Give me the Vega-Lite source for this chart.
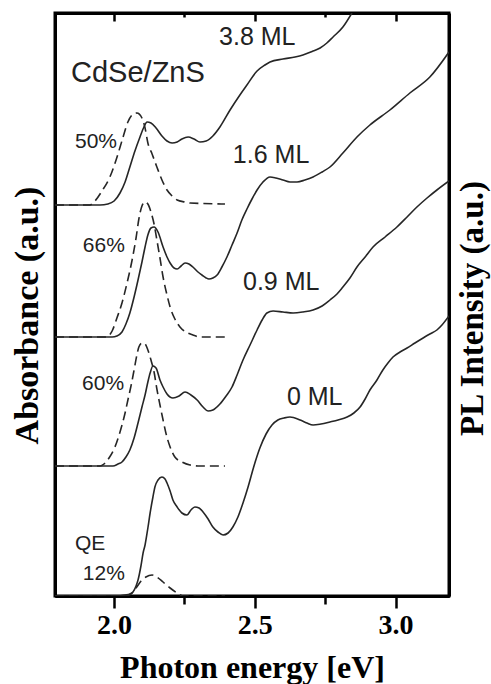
{
  "$schema": "https://vega.github.io/schema/vega-lite/v6.json",
  "width": 394,
  "height": 583,
  "autosize": {"type": "none"},
  "padding": {"left": 55, "top": 13, "right": 42, "bottom": 88},
  "config": {
    "view": {"stroke": "black", "strokeWidth": 3}
  },
  "datasets": {
    "abs": [
      {"series": "3.8 ML", "e": 1.790, "a": 3.91}, {"series": "3.8 ML", "e": 1.950, "a": 3.91}, {"series": "3.8 ML", "e": 1.978, "a": 3.92}, {"series": "3.8 ML", "e": 2.000, "a": 3.95}, {"series": "3.8 ML", "e": 2.021, "a": 4.03}, {"series": "3.8 ML", "e": 2.039, "a": 4.14}, {"series": "3.8 ML", "e": 2.056, "a": 4.29}, {"series": "3.8 ML", "e": 2.074, "a": 4.45}, {"series": "3.8 ML", "e": 2.092, "a": 4.59}, {"series": "3.8 ML", "e": 2.106, "a": 4.69}, {"series": "3.8 ML", "e": 2.117, "a": 4.74}, {"series": "3.8 ML", "e": 2.131, "a": 4.73}, {"series": "3.8 ML", "e": 2.149, "a": 4.68}, {"series": "3.8 ML", "e": 2.170, "a": 4.60}, {"series": "3.8 ML", "e": 2.188, "a": 4.55}, {"series": "3.8 ML", "e": 2.206, "a": 4.53}, {"series": "3.8 ML", "e": 2.224, "a": 4.54}, {"series": "3.8 ML", "e": 2.241, "a": 4.57}, {"series": "3.8 ML", "e": 2.263, "a": 4.59}, {"series": "3.8 ML", "e": 2.284, "a": 4.57}, {"series": "3.8 ML", "e": 2.305, "a": 4.54}, {"series": "3.8 ML", "e": 2.327, "a": 4.55}, {"series": "3.8 ML", "e": 2.351, "a": 4.60}, {"series": "3.8 ML", "e": 2.376, "a": 4.69}, {"series": "3.8 ML", "e": 2.412, "a": 4.86}, {"series": "3.8 ML", "e": 2.447, "a": 5.01}, {"series": "3.8 ML", "e": 2.472, "a": 5.11}, {"series": "3.8 ML", "e": 2.508, "a": 5.25}, {"series": "3.8 ML", "e": 2.536, "a": 5.31}, {"series": "3.8 ML", "e": 2.554, "a": 5.34}, {"series": "3.8 ML", "e": 2.600, "a": 5.37}, {"series": "3.8 ML", "e": 2.643, "a": 5.39}, {"series": "3.8 ML", "e": 2.671, "a": 5.41}, {"series": "3.8 ML", "e": 2.707, "a": 5.45}, {"series": "3.8 ML", "e": 2.732, "a": 5.48}, {"series": "3.8 ML", "e": 2.756, "a": 5.53}, {"series": "3.8 ML", "e": 2.778, "a": 5.59}, {"series": "3.8 ML", "e": 2.813, "a": 5.69}, {"series": "3.8 ML", "e": 2.845, "a": 5.83},

      {"series": "1.6 ML", "e": 1.790, "a": 2.59}, {"series": "1.6 ML", "e": 1.993, "a": 2.59}, {"series": "1.6 ML", "e": 2.010, "a": 2.60}, {"series": "1.6 ML", "e": 2.028, "a": 2.64}, {"series": "1.6 ML", "e": 2.042, "a": 2.72}, {"series": "1.6 ML", "e": 2.056, "a": 2.83}, {"series": "1.6 ML", "e": 2.071, "a": 2.99}, {"series": "1.6 ML", "e": 2.085, "a": 3.16}, {"series": "1.6 ML", "e": 2.099, "a": 3.34}, {"series": "1.6 ML", "e": 2.110, "a": 3.49}, {"series": "1.6 ML", "e": 2.120, "a": 3.61}, {"series": "1.6 ML", "e": 2.131, "a": 3.68}, {"series": "1.6 ML", "e": 2.142, "a": 3.69}, {"series": "1.6 ML", "e": 2.156, "a": 3.64}, {"series": "1.6 ML", "e": 2.174, "a": 3.49}, {"series": "1.6 ML", "e": 2.188, "a": 3.39}, {"series": "1.6 ML", "e": 2.199, "a": 3.33}, {"series": "1.6 ML", "e": 2.213, "a": 3.28}, {"series": "1.6 ML", "e": 2.224, "a": 3.27}, {"series": "1.6 ML", "e": 2.238, "a": 3.30}, {"series": "1.6 ML", "e": 2.252, "a": 3.33}, {"series": "1.6 ML", "e": 2.266, "a": 3.32}, {"series": "1.6 ML", "e": 2.280, "a": 3.29}, {"series": "1.6 ML", "e": 2.298, "a": 3.24}, {"series": "1.6 ML", "e": 2.312, "a": 3.21}, {"series": "1.6 ML", "e": 2.327, "a": 3.18}, {"series": "1.6 ML", "e": 2.337, "a": 3.17}, {"series": "1.6 ML", "e": 2.351, "a": 3.18}, {"series": "1.6 ML", "e": 2.366, "a": 3.21}, {"series": "1.6 ML", "e": 2.383, "a": 3.29}, {"series": "1.6 ML", "e": 2.401, "a": 3.39}, {"series": "1.6 ML", "e": 2.419, "a": 3.51}, {"series": "1.6 ML", "e": 2.437, "a": 3.63}, {"series": "1.6 ML", "e": 2.454, "a": 3.76}, {"series": "1.6 ML", "e": 2.472, "a": 3.87}, {"series": "1.6 ML", "e": 2.490, "a": 3.97}, {"series": "1.6 ML", "e": 2.508, "a": 4.06}, {"series": "1.6 ML", "e": 2.529, "a": 4.14}, {"series": "1.6 ML", "e": 2.554, "a": 4.19}, {"series": "1.6 ML", "e": 2.575, "a": 4.18}, {"series": "1.6 ML", "e": 2.600, "a": 4.16}, {"series": "1.6 ML", "e": 2.625, "a": 4.14}, {"series": "1.6 ML", "e": 2.650, "a": 4.14}, {"series": "1.6 ML", "e": 2.678, "a": 4.16}, {"series": "1.6 ML", "e": 2.707, "a": 4.19}, {"series": "1.6 ML", "e": 2.739, "a": 4.24}, {"series": "1.6 ML", "e": 2.767, "a": 4.29}, {"series": "1.6 ML", "e": 2.813, "a": 4.43}, {"series": "1.6 ML", "e": 2.863, "a": 4.59}, {"series": "1.6 ML", "e": 2.909, "a": 4.71}, {"series": "1.6 ML", "e": 2.980, "a": 4.86}, {"series": "1.6 ML", "e": 3.051, "a": 5.03}, {"series": "1.6 ML", "e": 3.122, "a": 5.19}, {"series": "1.6 ML", "e": 3.190, "a": 5.44},

      {"series": "0.9 ML", "e": 1.790, "a": 1.30}, {"series": "0.9 ML", "e": 1.996, "a": 1.30}, {"series": "0.9 ML", "e": 2.014, "a": 1.32}, {"series": "0.9 ML", "e": 2.028, "a": 1.34}, {"series": "0.9 ML", "e": 2.042, "a": 1.39}, {"series": "0.9 ML", "e": 2.056, "a": 1.46}, {"series": "0.9 ML", "e": 2.071, "a": 1.58}, {"series": "0.9 ML", "e": 2.085, "a": 1.73}, {"series": "0.9 ML", "e": 2.099, "a": 1.89}, {"series": "0.9 ML", "e": 2.110, "a": 2.01}, {"series": "0.9 ML", "e": 2.120, "a": 2.14}, {"series": "0.9 ML", "e": 2.128, "a": 2.23}, {"series": "0.9 ML", "e": 2.138, "a": 2.30}, {"series": "0.9 ML", "e": 2.149, "a": 2.28}, {"series": "0.9 ML", "e": 2.163, "a": 2.16}, {"series": "0.9 ML", "e": 2.174, "a": 2.09}, {"series": "0.9 ML", "e": 2.188, "a": 2.02}, {"series": "0.9 ML", "e": 2.209, "a": 1.98}, {"series": "0.9 ML", "e": 2.231, "a": 2.00}, {"series": "0.9 ML", "e": 2.252, "a": 2.04}, {"series": "0.9 ML", "e": 2.273, "a": 2.01}, {"series": "0.9 ML", "e": 2.295, "a": 1.96}, {"series": "0.9 ML", "e": 2.316, "a": 1.89}, {"series": "0.9 ML", "e": 2.334, "a": 1.85}, {"series": "0.9 ML", "e": 2.351, "a": 1.86}, {"series": "0.9 ML", "e": 2.376, "a": 1.92}, {"series": "0.9 ML", "e": 2.398, "a": 2.00}, {"series": "0.9 ML", "e": 2.419, "a": 2.09}, {"series": "0.9 ML", "e": 2.437, "a": 2.21}, {"series": "0.9 ML", "e": 2.458, "a": 2.36}, {"series": "0.9 ML", "e": 2.483, "a": 2.51}, {"series": "0.9 ML", "e": 2.508, "a": 2.66}, {"series": "0.9 ML", "e": 2.526, "a": 2.76}, {"series": "0.9 ML", "e": 2.543, "a": 2.83}, {"series": "0.9 ML", "e": 2.565, "a": 2.85}, {"series": "0.9 ML", "e": 2.600, "a": 2.84}, {"series": "0.9 ML", "e": 2.636, "a": 2.83}, {"series": "0.9 ML", "e": 2.671, "a": 2.84}, {"series": "0.9 ML", "e": 2.707, "a": 2.86}, {"series": "0.9 ML", "e": 2.739, "a": 2.90}, {"series": "0.9 ML", "e": 2.767, "a": 2.96}, {"series": "0.9 ML", "e": 2.792, "a": 3.02}, {"series": "0.9 ML", "e": 2.813, "a": 3.09}, {"series": "0.9 ML", "e": 2.838, "a": 3.18}, {"series": "0.9 ML", "e": 2.863, "a": 3.29}, {"series": "0.9 ML", "e": 2.892, "a": 3.39}, {"series": "0.9 ML", "e": 2.920, "a": 3.49}, {"series": "0.9 ML", "e": 2.963, "a": 3.59}, {"series": "0.9 ML", "e": 3.005, "a": 3.69}, {"series": "0.9 ML", "e": 3.041, "a": 3.79}, {"series": "0.9 ML", "e": 3.076, "a": 3.89}, {"series": "0.9 ML", "e": 3.112, "a": 3.98}, {"series": "0.9 ML", "e": 3.147, "a": 4.06}, {"series": "0.9 ML", "e": 3.190, "a": 4.15},

      {"series": "0 ML", "e": 1.790, "a": 0.00}, {"series": "0 ML", "e": 2.010, "a": 0.00}, {"series": "0 ML", "e": 2.039, "a": 0.01}, {"series": "0 ML", "e": 2.056, "a": 0.02}, {"series": "0 ML", "e": 2.067, "a": 0.04}, {"series": "0 ML", "e": 2.078, "a": 0.10}, {"series": "0 ML", "e": 2.085, "a": 0.16}, {"series": "0 ML", "e": 2.096, "a": 0.31}, {"series": "0 ML", "e": 2.103, "a": 0.43}, {"series": "0 ML", "e": 2.110, "a": 0.51}, {"series": "0 ML", "e": 2.120, "a": 0.68}, {"series": "0 ML", "e": 2.128, "a": 0.83}, {"series": "0 ML", "e": 2.138, "a": 0.99}, {"series": "0 ML", "e": 2.145, "a": 1.09}, {"series": "0 ML", "e": 2.156, "a": 1.16}, {"series": "0 ML", "e": 2.170, "a": 1.19}, {"series": "0 ML", "e": 2.181, "a": 1.17}, {"series": "0 ML", "e": 2.188, "a": 1.13}, {"series": "0 ML", "e": 2.199, "a": 1.05}, {"series": "0 ML", "e": 2.209, "a": 0.96}, {"series": "0 ML", "e": 2.224, "a": 0.89}, {"series": "0 ML", "e": 2.241, "a": 0.83}, {"series": "0 ML", "e": 2.259, "a": 0.81}, {"series": "0 ML", "e": 2.273, "a": 0.86}, {"series": "0 ML", "e": 2.287, "a": 0.89}, {"series": "0 ML", "e": 2.302, "a": 0.88}, {"series": "0 ML", "e": 2.316, "a": 0.84}, {"series": "0 ML", "e": 2.334, "a": 0.77}, {"series": "0 ML", "e": 2.351, "a": 0.69}, {"series": "0 ML", "e": 2.369, "a": 0.64}, {"series": "0 ML", "e": 2.387, "a": 0.61}, {"series": "0 ML", "e": 2.405, "a": 0.63}, {"series": "0 ML", "e": 2.422, "a": 0.69}, {"series": "0 ML", "e": 2.440, "a": 0.79}, {"series": "0 ML", "e": 2.458, "a": 0.93}, {"series": "0 ML", "e": 2.476, "a": 1.09}, {"series": "0 ML", "e": 2.497, "a": 1.30}, {"series": "0 ML", "e": 2.518, "a": 1.48}, {"series": "0 ML", "e": 2.540, "a": 1.62}, {"series": "0 ML", "e": 2.561, "a": 1.71}, {"series": "0 ML", "e": 2.582, "a": 1.76}, {"series": "0 ML", "e": 2.604, "a": 1.78}, {"series": "0 ML", "e": 2.625, "a": 1.79}, {"series": "0 ML", "e": 2.661, "a": 1.76}, {"series": "0 ML", "e": 2.685, "a": 1.73}, {"series": "0 ML", "e": 2.707, "a": 1.71}, {"series": "0 ML", "e": 2.735, "a": 1.72}, {"series": "0 ML", "e": 2.767, "a": 1.74}, {"series": "0 ML", "e": 2.796, "a": 1.76}, {"series": "0 ML", "e": 2.828, "a": 1.79}, {"series": "0 ML", "e": 2.852, "a": 1.83}, {"series": "0 ML", "e": 2.874, "a": 1.89}, {"series": "0 ML", "e": 2.892, "a": 1.97}, {"series": "0 ML", "e": 2.909, "a": 2.06}, {"series": "0 ML", "e": 2.934, "a": 2.16}, {"series": "0 ML", "e": 2.955, "a": 2.26}, {"series": "0 ML", "e": 2.973, "a": 2.33}, {"series": "0 ML", "e": 2.991, "a": 2.39}, {"series": "0 ML", "e": 3.016, "a": 2.44}, {"series": "0 ML", "e": 3.041, "a": 2.48}, {"series": "0 ML", "e": 3.069, "a": 2.53}, {"series": "0 ML", "e": 3.098, "a": 2.58}, {"series": "0 ML", "e": 3.122, "a": 2.62}, {"series": "0 ML", "e": 3.147, "a": 2.66}, {"series": "0 ML", "e": 3.165, "a": 2.71}, {"series": "0 ML", "e": 3.190, "a": 2.80}
    ],
    "pl": [
      {"series": "3.8 ML", "e": 1.790, "p": 3.91}, {"series": "3.8 ML", "e": 1.914, "p": 3.91}, {"series": "3.8 ML", "e": 1.932, "p": 3.95}, {"series": "3.8 ML", "e": 1.957, "p": 4.05}, {"series": "3.8 ML", "e": 1.985, "p": 4.19}, {"series": "3.8 ML", "e": 2.007, "p": 4.36}, {"series": "3.8 ML", "e": 2.032, "p": 4.59}, {"series": "3.8 ML", "e": 2.049, "p": 4.74}, {"series": "3.8 ML", "e": 2.064, "p": 4.81}, {"series": "3.8 ML", "e": 2.081, "p": 4.83}, {"series": "3.8 ML", "e": 2.099, "p": 4.78}, {"series": "3.8 ML", "e": 2.110, "p": 4.68}, {"series": "3.8 ML", "e": 2.120, "p": 4.53}, {"series": "3.8 ML", "e": 2.135, "p": 4.42}, {"series": "3.8 ML", "e": 2.152, "p": 4.29}, {"series": "3.8 ML", "e": 2.170, "p": 4.16}, {"series": "3.8 ML", "e": 2.188, "p": 4.06}, {"series": "3.8 ML", "e": 2.206, "p": 4.00}, {"series": "3.8 ML", "e": 2.224, "p": 3.96}, {"series": "3.8 ML", "e": 2.252, "p": 3.94}, {"series": "3.8 ML", "e": 2.270, "p": 3.93}, {"series": "3.8 ML", "e": 2.394, "p": 3.92},

      {"series": "1.6 ML", "e": 1.790, "p": 2.59}, {"series": "1.6 ML", "e": 1.971, "p": 2.59}, {"series": "1.6 ML", "e": 1.993, "p": 2.65}, {"series": "1.6 ML", "e": 2.010, "p": 2.78}, {"series": "1.6 ML", "e": 2.028, "p": 2.93}, {"series": "1.6 ML", "e": 2.046, "p": 3.13}, {"series": "1.6 ML", "e": 2.064, "p": 3.36}, {"series": "1.6 ML", "e": 2.078, "p": 3.58}, {"series": "1.6 ML", "e": 2.088, "p": 3.77}, {"series": "1.6 ML", "e": 2.099, "p": 3.90}, {"series": "1.6 ML", "e": 2.110, "p": 3.94}, {"series": "1.6 ML", "e": 2.120, "p": 3.92}, {"series": "1.6 ML", "e": 2.131, "p": 3.84}, {"series": "1.6 ML", "e": 2.142, "p": 3.72}, {"series": "1.6 ML", "e": 2.152, "p": 3.56}, {"series": "1.6 ML", "e": 2.163, "p": 3.38}, {"series": "1.6 ML", "e": 2.174, "p": 3.19}, {"series": "1.6 ML", "e": 2.188, "p": 3.01}, {"series": "1.6 ML", "e": 2.199, "p": 2.89}, {"series": "1.6 ML", "e": 2.216, "p": 2.77}, {"series": "1.6 ML", "e": 2.234, "p": 2.69}, {"series": "1.6 ML", "e": 2.255, "p": 2.64}, {"series": "1.6 ML", "e": 2.280, "p": 2.61}, {"series": "1.6 ML", "e": 2.305, "p": 2.59}, {"series": "1.6 ML", "e": 2.394, "p": 2.59},

      {"series": "0.9 ML", "e": 1.790, "p": 1.30}, {"series": "0.9 ML", "e": 1.950, "p": 1.30}, {"series": "0.9 ML", "e": 1.964, "p": 1.32}, {"series": "0.9 ML", "e": 1.982, "p": 1.38}, {"series": "0.9 ML", "e": 2.003, "p": 1.49}, {"series": "0.9 ML", "e": 2.021, "p": 1.64}, {"series": "0.9 ML", "e": 2.039, "p": 1.83}, {"series": "0.9 ML", "e": 2.049, "p": 1.96}, {"series": "0.9 ML", "e": 2.060, "p": 2.10}, {"series": "0.9 ML", "e": 2.071, "p": 2.26}, {"series": "0.9 ML", "e": 2.081, "p": 2.41}, {"series": "0.9 ML", "e": 2.088, "p": 2.49}, {"series": "0.9 ML", "e": 2.099, "p": 2.53}, {"series": "0.9 ML", "e": 2.110, "p": 2.52}, {"series": "0.9 ML", "e": 2.120, "p": 2.46}, {"series": "0.9 ML", "e": 2.131, "p": 2.36}, {"series": "0.9 ML", "e": 2.142, "p": 2.24}, {"series": "0.9 ML", "e": 2.152, "p": 2.07}, {"series": "0.9 ML", "e": 2.163, "p": 1.91}, {"series": "0.9 ML", "e": 2.174, "p": 1.76}, {"series": "0.9 ML", "e": 2.184, "p": 1.63}, {"series": "0.9 ML", "e": 2.199, "p": 1.49}, {"series": "0.9 ML", "e": 2.216, "p": 1.39}, {"series": "0.9 ML", "e": 2.241, "p": 1.34}, {"series": "0.9 ML", "e": 2.270, "p": 1.31}, {"series": "0.9 ML", "e": 2.305, "p": 1.30}, {"series": "0.9 ML", "e": 2.394, "p": 1.30},

      {"series": "0 ML", "e": 1.790, "p": 0.00}, {"series": "0 ML", "e": 2.039, "p": 0.00}, {"series": "0 ML", "e": 2.060, "p": 0.02}, {"series": "0 ML", "e": 2.078, "p": 0.08}, {"series": "0 ML", "e": 2.096, "p": 0.15}, {"series": "0 ML", "e": 2.113, "p": 0.19}, {"series": "0 ML", "e": 2.135, "p": 0.21}, {"series": "0 ML", "e": 2.152, "p": 0.19}, {"series": "0 ML", "e": 2.174, "p": 0.14}, {"series": "0 ML", "e": 2.199, "p": 0.08}, {"series": "0 ML", "e": 2.224, "p": 0.03}, {"series": "0 ML", "e": 2.245, "p": 0.00}, {"series": "0 ML", "e": 2.394, "p": 0.00}
    ],
    "big": [
      {"t": "CdSe/ZnS", "e": 1.847, "v": 5.14}
    ],
    "ml": [
      {"t": "3.8 ML", "e": 2.373, "v": 5.51},
      {"t": "1.6 ML", "e": 2.422, "v": 4.33},
      {"t": "0.9 ML", "e": 2.458, "v": 3.06},
      {"t": "0 ML", "e": 2.614, "v": 1.91}
    ],
    "qe": [
      {"t": "50%", "e": 1.861, "v": 4.48},
      {"t": "66%", "e": 1.889, "v": 3.44},
      {"t": "60%", "e": 1.886, "v": 2.06},
      {"t": "QE", "e": 1.861, "v": 0.46},
      {"t": "12%", "e": 1.889, "v": 0.16}
    ]
  },
  "layer": [
    {
      "data": {"name": "abs"},
      "mark": {"type": "line", "color": "#262626", "strokeWidth": 1.6, "interpolate": "monotone", "clip": true},
      "encoding": {
        "x": {
          "field": "e", "type": "quantitative",
          "scale": {"domain": [1.79, 3.19], "nice": false, "zero": false},
          "axis": {
            "orient": "bottom", "values": [2.0, 2.5, 3.0], "format": ".1f",
            "tickSize": 12, "tickWidth": 2.5, "tickColor": "black", "domainColor": "black", "domainWidth": 3, "grid": false,
            "labelFont": "Liberation Serif", "labelFontWeight": "bold", "labelFontSize": 28, "labelColor": "black",
            "labelPadding": 3, "labelFlush": false, "labelOverlap": false,
            "title": "Photon energy [eV]", "titleFont": "Liberation Serif", "titleFontWeight": "bold",
            "titleFontSize": 32, "titleColor": "black", "titleY": 81, "titleBaseline": "alphabetic"
          }
        },
        "y": {
          "field": "a", "type": "quantitative",
          "scale": {"domain": [0, 5.83], "nice": false, "zero": false},
          "axis": {
            "orient": "left", "ticks": false, "labels": false, "domainColor": "black", "domainWidth": 3, "grid": false,
            "title": "Absorbance (a.u.)", "titleFont": "Liberation Serif", "titleFontWeight": "bold",
            "titleFontSize": 34, "titleColor": "black", "titleAngle": -90,
            "titleX": -18, "titleY": 302, "titleBaseline": "alphabetic", "titleAlign": "center"
          }
        },
        "detail": {"field": "series"}
      }
    },
    {
      "data": {"name": "pl"},
      "mark": {"type": "line", "color": "#262626", "strokeWidth": 1.6, "strokeDash": [9, 5], "interpolate": "monotone", "clip": true},
      "encoding": {
        "x": {
          "field": "e", "type": "quantitative",
          "axis": {
            "orient": "top", "values": [2.0, 2.5, 3.0], "labels": false,
            "tickSize": -8, "tickWidth": 2.5, "tickColor": "black", "domainColor": "black", "domainWidth": 3, "grid": false, "title": null
          }
        },
        "y": {
          "field": "p", "type": "quantitative",
          "axis": {
            "orient": "right", "ticks": false, "labels": false, "domainColor": "black", "domainWidth": 3, "grid": false,
            "title": "PL Intensity (a.u.)", "titleFont": "Liberation Serif", "titleFontWeight": "bold",
            "titleFontSize": 33, "titleColor": "black", "titleAngle": -90,
            "titleX": 33, "titleY": 295, "titleBaseline": "alphabetic", "titleAlign": "center"
          }
        },
        "detail": {"field": "series"}
      }
    },
    {
      "data": {"name": "big"},
      "mark": {"type": "text", "align": "left", "baseline": "alphabetic", "font": "Liberation Sans", "fontSize": 29, "color": "#222222"},
      "encoding": {
        "x": {"field": "e", "type": "quantitative", "axis": null},
        "y": {"field": "v", "type": "quantitative", "axis": null},
        "text": {"field": "t"}
      }
    },
    {
      "data": {"name": "ml"},
      "mark": {"type": "text", "align": "left", "baseline": "alphabetic", "font": "Liberation Sans", "fontSize": 25, "color": "#222222"},
      "encoding": {
        "x": {
          "field": "e", "type": "quantitative",
          "axis": {
            "orient": "bottom", "values": [2.25, 2.75], "labels": false,
            "tickSize": 8, "tickWidth": 2.5, "tickColor": "black", "domainColor": "black", "domainWidth": 3, "grid": false, "title": null
          }
        },
        "y": {"field": "v", "type": "quantitative", "axis": null},
        "text": {"field": "t"}
      }
    },
    {
      "data": {"name": "qe"},
      "mark": {"type": "text", "align": "left", "baseline": "alphabetic", "font": "Liberation Sans", "fontSize": 21, "color": "#222222"},
      "encoding": {
        "x": {
          "field": "e", "type": "quantitative",
          "axis": {
            "orient": "top", "values": [2.25, 2.75], "labels": false,
            "tickSize": -4, "tickWidth": 2.5, "tickColor": "black", "domainColor": "black", "domainWidth": 3, "grid": false, "title": null
          }
        },
        "y": {"field": "v", "type": "quantitative", "axis": null},
        "text": {"field": "t"}
      }
    }
  ],
  "resolve": {"axis": {"x": "independent", "y": "independent"}}
}
